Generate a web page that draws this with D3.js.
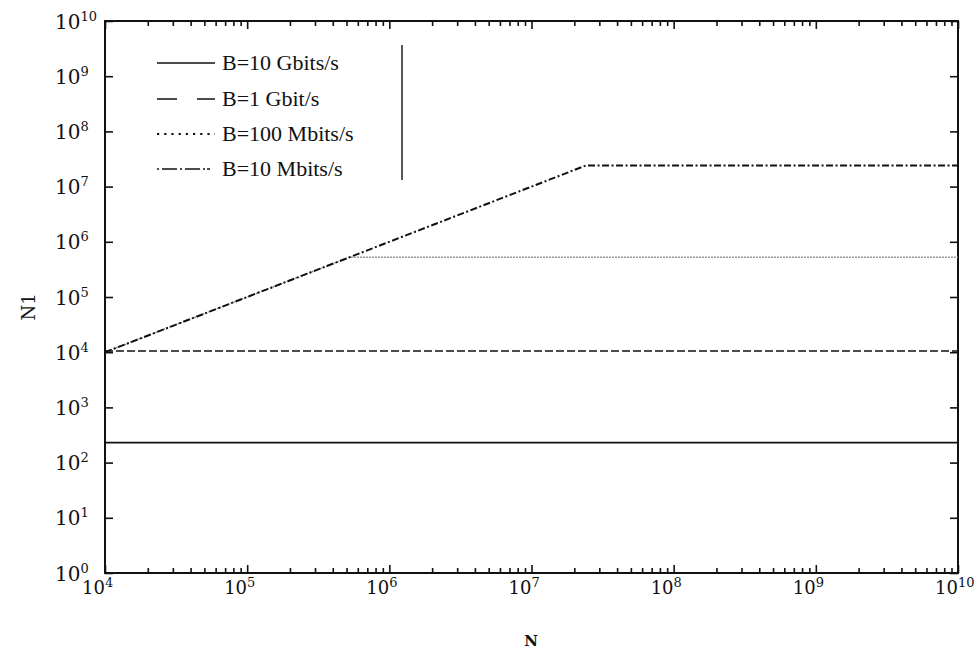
<!DOCTYPE html>
<html>
<head>
<meta charset="utf-8">
<script src="https://cdn.jsdelivr.net/npm/d3@7"></script>
<style>
  body { margin: 0; background: #fff; }
  text { fill: #111; }
</style>
</head>
<body>
<svg id="chart" width="977" height="651"></svg>
<script>
// values
const seriesNames = ["B=10 Gbits/s", "B=1 Gbit/s", "B=100 Mbits/s", "B=10 Mbits/s"];
const seriesN = [
  [1e4, 1e10],
  [1e4, 1e10],
  [1e4, 5.25e5, 1e10],
  [1e4, 2.4e7, 1e10],
];
const seriesN1 = [
  [230, 230],
  [1.05e4, 1.05e4],
  [1e4, 5.25e5, 5.25e5],
  [1e4, 2.4e7, 2.4e7],
];
const xTickExps = [4, 5, 6, 7, 8, 9, 10];
const yTickExps = [0, 1, 2, 3, 4, 5, 6, 7, 8, 9, 10];

const styles = [
  { dash: null, color: "#111", width: 1.6, legendDash: null },
  { dash: "8,3", color: "#111", width: 1.6, legendDash: "20,20" },
  { dash: "1.5,1.5", color: "#777", width: 1.3, legendDash: "2.2,5" },
  { dash: "7,2.5,2,2.5", color: "#111", width: 2, legendDash: "2,3,15,3,2,3,15,3,2" },
];

const margin = { left: 105, right: 19, top: 21, bottom: 78 };
const width = 977, height = 651;

const svg = d3.select("#chart");

const x = d3.scaleLog().domain([1e4, 1e10]).range([margin.left, width - margin.right]);
const y = d3.scaleLog().domain([1, 1e10]).range([height - margin.bottom, margin.top]);

const [x0, x1] = x.range();
const [y0, y1] = y.range(); // y0 bottom, y1 top

const minorX = [];
xTickExps.slice(0, -1).forEach((e) => {
  for (let k = 2; k <= 9; k++) minorX.push(k * Math.pow(10, e));
});
const majorX = xTickExps.map((e) => Math.pow(10, e));
const majorY = yTickExps.map((e) => Math.pow(10, e));

const frame = svg.append("g").attr("stroke", "#111").attr("fill", "none");

// bottom / top axes (ticks point inward)
const axisBottom = d3.axisBottom(x).tickValues(majorX).tickSize(-8).tickFormat("");
const axisTop = d3.axisTop(x).tickValues(majorX).tickSize(-8).tickFormat("");
const axisBottomMinor = d3.axisBottom(x).tickValues(minorX).tickSize(-5).tickFormat("");
const axisTopMinor = d3.axisTop(x).tickValues(minorX).tickSize(-5).tickFormat("");
const axisLeft = d3.axisLeft(y).tickValues(majorY).tickSize(-8).tickFormat("");
const axisRight = d3.axisRight(y).tickValues(majorY).tickSize(-8).tickFormat("");

function styleAxis(g) {
  g.select(".domain").remove();
  g.selectAll(".tick line").attr("stroke", "#111").attr("stroke-width", 1.6);
}

svg.append("g").attr("transform", `translate(0,${y0})`).call(axisBottom).call(styleAxis);
svg.append("g").attr("transform", `translate(0,${y0})`).call(axisBottomMinor).call(styleAxis);
svg.append("g").attr("transform", `translate(0,${y1})`).call(axisTop).call(styleAxis);
svg.append("g").attr("transform", `translate(0,${y1})`).call(axisTopMinor).call(styleAxis);
svg.append("g").attr("transform", `translate(${x0},0)`).call(axisLeft).call(styleAxis);
svg.append("g").attr("transform", `translate(${x1},0)`).call(axisRight).call(styleAxis);

frame.append("rect")
  .attr("x", x0).attr("y", y1)
  .attr("width", x1 - x0).attr("height", y0 - y1)
  .attr("stroke-width", 2);

// tick labels with superscript exponents
const yLabels = svg.append("g").attr("font-family", "DejaVu Serif");
yTickExps.forEach((e) => {
  const t = yLabels.append("text")
    .attr("x", 55)
    .attr("y", y(Math.pow(10, e)) + 7.5)
    .attr("font-size", 20);
  t.append("tspan").text("10");
  t.append("tspan").attr("font-size", 13).attr("dy", -8).text(e);
});

const xLabels = svg.append("g").attr("font-family", "DejaVu Serif");
xTickExps.forEach((e) => {
  const t = xLabels.append("text")
    .attr("x", x(Math.pow(10, e)) - 23)
    .attr("y", 594)
    .attr("font-size", 18);
  t.append("tspan").text("10");
  t.append("tspan").attr("font-size", 13).attr("dy", -7).text(e);
});

// axis titles
svg.append("text")
  .attr("transform", "translate(35,307) rotate(-90)")
  .attr("text-anchor", "middle")
  .attr("font-family", "DejaVu Serif")
  .attr("font-size", 18)
  .text("N1");

svg.append("text")
  .attr("x", 531)
  .attr("y", 646)
  .attr("text-anchor", "middle")
  .attr("font-family", "DejaVu Serif")
  .attr("font-size", 15)
  .attr("font-weight", "bold")
  .text("N");

// curves
const line = d3.line().x((d) => x(d[0])).y((d) => y(d[1]));
const plot = svg.append("g").attr("fill", "none");
seriesNames.forEach((name, i) => {
  const pts = seriesN[i].map((n, j) => [n, seriesN1[i][j]]);
  plot.append("path")
    .datum(pts)
    .attr("d", line)
    .attr("stroke", styles[i].color)
    .attr("stroke-width", styles[i].width)
    .attr("stroke-dasharray", styles[i].dash);
});

// legend
const legend = svg.append("g");
const legendRowY = [63, 99, 134, 169];
seriesNames.forEach((name, i) => {
  const ly = legendRowY[i];
  legend.append("line")
    .attr("x1", 157).attr("x2", 215)
    .attr("y1", ly).attr("y2", ly)
    .attr("stroke", "#111")
    .attr("stroke-width", i === 2 ? 2 : 1.6)
    .attr("stroke-dasharray", styles[i].legendDash);
  legend.append("text")
    .attr("x", 222)
    .attr("y", ly + 7)
    .attr("font-family", "Liberation Serif")
    .attr("font-size", 22)
    .text(name);
});
legend.append("line")
  .attr("x1", 402).attr("x2", 402)
  .attr("y1", 45).attr("y2", 180)
  .attr("stroke", "#111")
  .attr("stroke-width", 1.4);
</script>
</body>
</html>
